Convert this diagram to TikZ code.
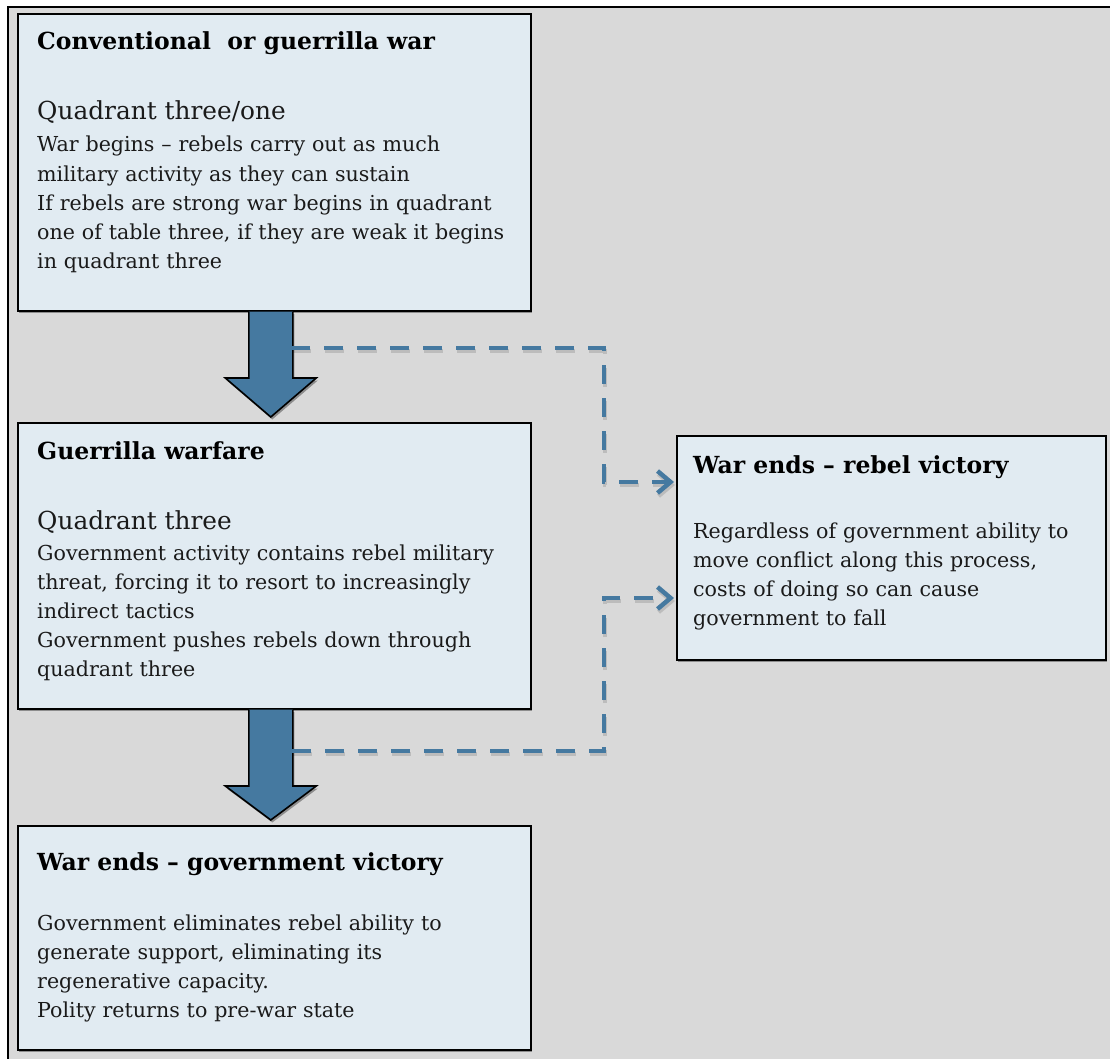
\documentclass[tikz,border=0pt]{standalone}
\usepackage{fontspec}
\setmainfont{DejaVu Serif}
\usetikzlibrary{arrows.meta,calc,shadows}

\definecolor{pagegray}{HTML}{D9D9D9}
\definecolor{boxblue}{HTML}{E1EBF2}
\definecolor{flowblue}{HTML}{4579A0}
\definecolor{inkgray}{HTML}{1A1A1A}

\tikzset{
  softshadow/.style={drop shadow={shadow xshift=1.5pt,shadow yshift=-2.5pt,opacity=.35,fill=black}},
  stagebox/.style={rectangle, draw=black, line width=1.6pt, fill=boxblue,
    inner sep=0pt, anchor=north west, softshadow},
  headtext/.style={anchor=base west, inner sep=0pt,
    font=\fontsize{23.5}{29}\selectfont\bfseries},
  quadtext/.style={anchor=base west, inner sep=0pt, text=inkgray,
    font=\fontsize{24.8}{29}\selectfont},
  bodytext/.style={anchor=base west, inner sep=0pt, text=inkgray,
    text width=490pt, align=left, font=\fontsize{20.6}{29.2}\selectfont},
  blockarrow/.style={fill=flowblue, draw=black, line width=1.6pt,
    line join=miter, softshadow},
  linkdash/.style={line width=4.5pt, dash pattern=on 19pt off 14pt},
  linkline/.style={draw=flowblue, linkdash,
    -{Straight Barb[length=13pt,width=22pt]},
    preaction={draw=black, draw opacity=.13, linkdash,
      transform canvas={xshift=1pt,yshift=-3pt}}},
}

% thick downward block arrow from the bottom of one stage to the top of the next
\newcommand\stagearrow[3]{%
  \path[blockarrow] let \p1=($(#1.south)+(-3.5,0)$), \p2=(#2.north) in
    (\x1-22pt,\y1) -- (\x1-22pt,\y2+#3) -- (\x1-45.5pt,\y2+#3)
    -- (\x1,\y2+5pt) -- (\x1+45.5pt,\y2+#3) -- (\x1+22pt,\y2+#3)
    -- (\x1+22pt,\y1);
}

\begin{document}
\begin{tikzpicture}[x=1pt,y=-1pt]
  \useasboundingbox (0,0) rectangle (1110,1059);
  \fill[white] (0,0) rectangle (1110,1059);
  \draw[line width=2.5pt, fill=pagegray] (8,7) rectangle (1130,1080);

  % stages
  \node[stagebox, minimum width=513pt, minimum height=297pt] (b1) at (17,13) {};
  \node[stagebox, minimum width=513pt, minimum height=286pt] (b2) at (17,422) {};
  \node[stagebox, minimum width=513pt, minimum height=224pt] (b3) at (17,825) {};
  \node[stagebox, minimum width=429pt, minimum height=224pt] (br) at (676,435) {};

  % texts of the first stage
  \node[headtext] (h1) at (37,50) {Conventional\ \ or guerrilla war};
  \node[quadtext] (q1) at (37,120) {Quadrant three/one};
  \node[bodytext] (d1) at (37,152) {War begins – rebels carry out as much\\
    military activity as they can sustain\\
    If rebels are strong war begins in quadrant\\
    one of table three, if they are weak it begins\\
    in quadrant three};

  % texts of the second stage
  \node[headtext] (h2) at (37,459) {Guerrilla warfare};
  \node[quadtext] (q2) at (37,529) {Quadrant three};
  \node[bodytext] (d2) at (37,560) {Government activity contains rebel military\\
    threat, forcing it to resort to increasingly\\
    indirect tactics\\
    Government pushes rebels down through\\
    quadrant three};

  % texts of the government victory stage
  \node[headtext] (h3) at (37,870) {War ends – government victory};
  \node[bodytext] (d3) at (37,930) {Government eliminates rebel ability to\\
    generate support, eliminating its\\
    regenerative capacity.\\
    Polity returns to pre-war state};

  % texts of the rebel victory stage
  \node[headtext] (hr) at (693,473) {War ends – rebel victory};
  \node[bodytext, text width=400pt] (dr) at (693,538) {Regardless of government ability to\\
    move conflict along this process,\\
    costs of doing so can cause\\
    government to fall};

  % block arrows between the stages
  \stagearrow{b1}{b2}{44pt}
  \stagearrow{b2}{b3}{39pt}

  % dashed links to the rebel victory stage
  \coordinate (s1) at (291,348);
  \coordinate (s2) at (292,751);
  \draw[linkline] (s1) -| (604,482) -- ($(br.north west)+(-2,47)$);
  \draw[linkline] (s2) -| (604,598) -- ($(br.north west)+(-2,163)$);
\end{tikzpicture}
\end{document}
